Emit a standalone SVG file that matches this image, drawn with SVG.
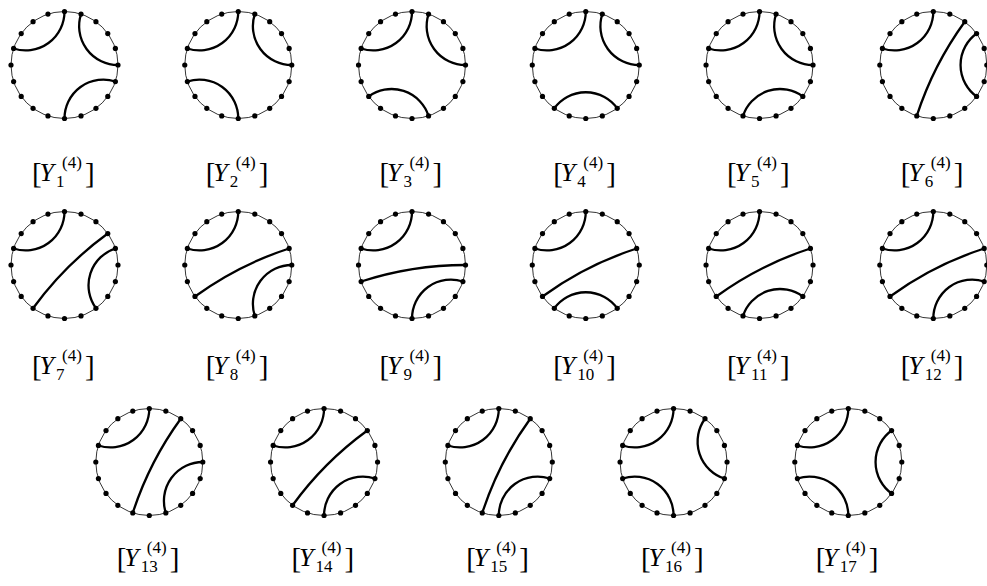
<svg xmlns="http://www.w3.org/2000/svg" xmlns:xlink="http://www.w3.org/1999/xlink" width="987" height="586" viewBox="0 0 987 586">
<style>
.c{fill:none;stroke:#000;stroke-width:0.8}
.a{fill:none;stroke:#000;stroke-width:2.3}
.d{fill:#000}
.t{font-family:"Liberation Serif","Times New Roman",serif;fill:#000}
.b{font-size:29px}
.y{font-size:26px;font-style:italic}
.s{font-size:17px}
</style>
<defs>
<g id="dots" class="d">
<circle cx="53.5" cy="0" r="2.6"/><circle cx="50.88" cy="-16.53" r="2.6"/><circle cx="43.28" cy="-31.45" r="2.6"/><circle cx="31.45" cy="-43.28" r="2.6"/><circle cx="16.53" cy="-50.88" r="2.6"/>
<circle cx="0" cy="-53.5" r="2.6"/><circle cx="-16.53" cy="-50.88" r="2.6"/><circle cx="-31.45" cy="-43.28" r="2.6"/><circle cx="-43.28" cy="-31.45" r="2.6"/><circle cx="-50.88" cy="-16.53" r="2.6"/>
<circle cx="-53.5" cy="0" r="2.6"/><circle cx="-50.88" cy="16.53" r="2.6"/><circle cx="-43.28" cy="31.45" r="2.6"/><circle cx="-31.45" cy="43.28" r="2.6"/><circle cx="-16.53" cy="50.88" r="2.6"/>
<circle cx="0" cy="53.5" r="2.6"/><circle cx="16.53" cy="50.88" r="2.6"/><circle cx="31.45" cy="43.28" r="2.6"/><circle cx="43.28" cy="31.45" r="2.6"/><circle cx="50.88" cy="16.53" r="2.6"/>
</g>
<circle id="ring" class="c" cx="0" cy="0" r="53.5"/>
<path id="A59" class="a" d="M0,-53.5 A38.87,38.87 0 0 1 -50.88,-16.53"/>
<path id="A04" class="a" d="M53.5,0 A38.87,38.87 0 0 1 16.53,-50.88"/>
<path id="A1519" class="a" d="M0,53.5 A38.87,38.87 0 0 1 50.88,16.53"/>
<path id="A1115" class="a" d="M-50.88,16.53 A38.87,38.87 0 0 1 0,53.5"/>
<path id="A1216" class="a" d="M-43.28,31.45 A38.87,38.87 0 0 1 16.53,50.88"/>
<path id="A1317" class="a" d="M-31.45,43.28 A38.87,38.87 0 0 1 31.45,43.28"/>
<path id="A1418" class="a" d="M-16.53,50.88 A38.87,38.87 0 0 1 43.28,31.45"/>
<path id="A182" class="a" d="M43.28,31.45 A38.87,38.87 0 0 1 43.28,-31.45"/>
<path id="A171" class="a" d="M31.45,43.28 A38.87,38.87 0 0 1 50.88,-16.53"/>
<path id="A160" class="a" d="M16.53,50.88 A38.87,38.87 0 0 1 53.5,0"/>
<path id="A193" class="a" d="M50.88,16.53 A38.87,38.87 0 0 1 31.45,-43.28"/>
<path id="C143" class="a" d="M-16.53,50.88 A337.79,337.79 0 0 1 31.45,-43.28"/>
<path id="C132" class="a" d="M-31.45,43.28 A337.79,337.79 0 0 1 43.28,-31.45"/>
<path id="C121" class="a" d="M-43.28,31.45 A337.79,337.79 0 0 1 50.88,-16.53"/>
<path id="C110" class="a" d="M-50.88,16.53 A337.79,337.79 0 0 1 53.5,0"/>
<g id="lab">
<text class="t b" x="-32.5" y="2">[</text>
<text class="t y" x="-25" y="0">Y</text>
<text class="t s" x="-2.5" y="-13">(4)</text>
<text class="t b" x="20.5" y="2">]</text>
</g>
</defs>

<g id="Y1" transform="translate(64.5,65)"><use href="#ring"/><use href="#A59"/><use href="#A04"/><use href="#A1519"/><use href="#dots"/><g transform="translate(0,116)"><use href="#lab"/><text class="t s" x="-8.5" y="6">1</text></g></g>
<g id="Y2" transform="translate(238.26,65)"><use href="#ring"/><use href="#A59"/><use href="#A04"/><use href="#A1115"/><use href="#dots"/><g transform="translate(0,116)"><use href="#lab"/><text class="t s" x="-8.5" y="6">2</text></g></g>
<g id="Y3" transform="translate(412.02,65)"><use href="#ring"/><use href="#A59"/><use href="#A04"/><use href="#A1216"/><use href="#dots"/><g transform="translate(0,116)"><use href="#lab"/><text class="t s" x="-8.5" y="6">3</text></g></g>
<g id="Y4" transform="translate(585.78,65)"><use href="#ring"/><use href="#A59"/><use href="#A04"/><use href="#A1317"/><use href="#dots"/><g transform="translate(0,116)"><use href="#lab"/><text class="t s" x="-8.5" y="6">4</text></g></g>
<g id="Y5" transform="translate(759.54,65)"><use href="#ring"/><use href="#A59"/><use href="#A04"/><use href="#A1418"/><use href="#dots"/><g transform="translate(0,116)"><use href="#lab"/><text class="t s" x="-8.5" y="6">5</text></g></g>
<g id="Y6" transform="translate(933.3,65)"><use href="#ring"/><use href="#A59"/><use href="#C143"/><use href="#A182"/><use href="#dots"/><g transform="translate(0,116)"><use href="#lab"/><text class="t s" x="-8.5" y="6">6</text></g></g>

<g id="Y7" transform="translate(64.5,265)"><use href="#ring"/><use href="#A59"/><use href="#C132"/><use href="#A171"/><use href="#dots"/><g transform="translate(0,109)"><use href="#lab"/><text class="t s" x="-8.5" y="6">7</text></g></g>
<g id="Y8" transform="translate(238.26,265)"><use href="#ring"/><use href="#A59"/><use href="#C121"/><use href="#A160"/><use href="#dots"/><g transform="translate(0,109)"><use href="#lab"/><text class="t s" x="-8.5" y="6">8</text></g></g>
<g id="Y9" transform="translate(412.02,265)"><use href="#ring"/><use href="#A59"/><use href="#C110"/><use href="#A1519"/><use href="#dots"/><g transform="translate(0,109)"><use href="#lab"/><text class="t s" x="-8.5" y="6">9</text></g></g>
<g id="Y10" transform="translate(585.78,265)"><use href="#ring"/><use href="#A59"/><use href="#C121"/><use href="#A1317"/><use href="#dots"/><g transform="translate(0,109)"><use href="#lab"/><text class="t s" x="-8.5" y="6">10</text></g></g>
<g id="Y11" transform="translate(759.54,265)"><use href="#ring"/><use href="#A59"/><use href="#C121"/><use href="#A1418"/><use href="#dots"/><g transform="translate(0,109)"><use href="#lab"/><text class="t s" x="-8.5" y="6">11</text></g></g>
<g id="Y12" transform="translate(933.3,265)"><use href="#ring"/><use href="#A59"/><use href="#C121"/><use href="#A1519"/><use href="#dots"/><g transform="translate(0,109)"><use href="#lab"/><text class="t s" x="-8.5" y="6">12</text></g></g>

<g id="Y13" transform="translate(149.3,462)"><use href="#ring"/><use href="#A59"/><use href="#C143"/><use href="#A160"/><use href="#dots"/><g transform="translate(0,104)"><use href="#lab"/><text class="t s" x="-8.5" y="6">13</text></g></g>
<g id="Y14" transform="translate(324.05,462)"><use href="#ring"/><use href="#A59"/><use href="#C132"/><use href="#A1519"/><use href="#dots"/><g transform="translate(0,104)"><use href="#lab"/><text class="t s" x="-8.5" y="6">14</text></g></g>
<g id="Y15" transform="translate(498.8,462)"><use href="#ring"/><use href="#A59"/><use href="#C143"/><use href="#A1519"/><use href="#dots"/><g transform="translate(0,104)"><use href="#lab"/><text class="t s" x="-8.5" y="6">15</text></g></g>
<g id="Y16" transform="translate(673.55,462)"><use href="#ring"/><use href="#A59"/><use href="#A193"/><use href="#A1115"/><use href="#dots"/><g transform="translate(0,104)"><use href="#lab"/><text class="t s" x="-8.5" y="6">16</text></g></g>
<g id="Y17" transform="translate(848.3,462)"><use href="#ring"/><use href="#A59"/><use href="#A182"/><use href="#A1115"/><use href="#dots"/><g transform="translate(0,104)"><use href="#lab"/><text class="t s" x="-8.5" y="6">17</text></g></g>
</svg>
